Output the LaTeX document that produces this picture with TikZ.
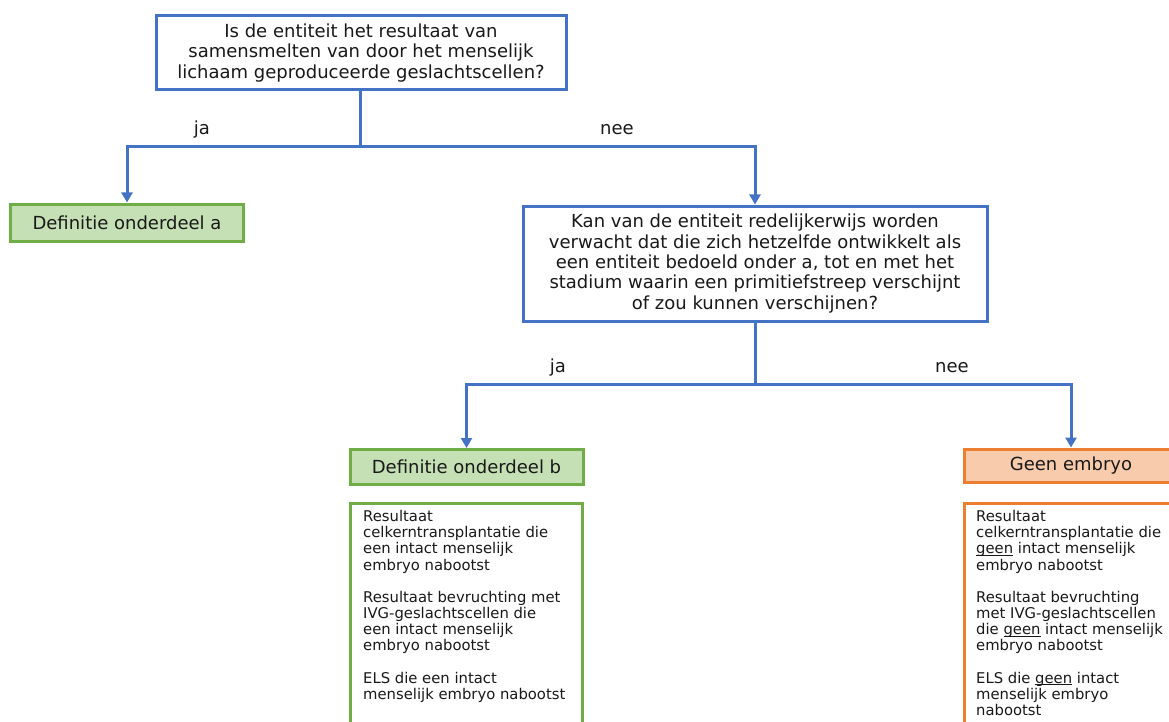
\documentclass[tikz,border=0pt]{standalone}
\usepackage{fontspec}
\setmainfont{DejaVu Sans}
\usetikzlibrary{arrows.meta}
\definecolor{cblue}{HTML}{4472C4}
\definecolor{cgreen}{HTML}{70AD47}
\definecolor{cgreenfill}{HTML}{C5E0B4}
\definecolor{corange}{HTML}{ED7D31}
\definecolor{corangefill}{HTML}{F8CBAD}
\newcommand{\ulword}[1]{\setbox0\hbox{#1}\rlap{\rule[-2.2pt]{\wd0}{0.9pt}}\box0\relax}
\tikzset{
  qbox/.style={draw=cblue, line width=3pt, fill=white, align=center, inner sep=0pt,
    font=\fontsize{18}{20.3}\selectfont, text=black!90},
  gbox/.style={draw=cgreen, line width=3pt, fill=cgreenfill, inner sep=0pt,
    font=\fontsize{18}{20}\selectfont, text=black!90},
  obox/.style={draw=corange, line width=3pt, fill=corangefill, inner sep=0pt,
    font=\fontsize{18}{20}\selectfont, text=black!90},
  listtext/.style={anchor=north west, align=left, inner sep=0pt,
    font=\fontsize{14.8}{16.2}\selectfont, text=black!90},
  conn/.style={draw=cblue, line width=3pt},
  arr/.style={conn, -{Triangle[width=11pt,length=10pt]}},
  lbl/.style={font=\fontsize{18}{20}\selectfont, text=black!90, inner sep=0pt}
}
\begin{document}
\begin{tikzpicture}[x=1pt,y=-1pt]
\useasboundingbox (0,0) rectangle (1169,722);
\clip (0,0) rectangle (1169,722);
% question boxes
\node[qbox, minimum width=410pt, minimum height=74pt] (q1) at (361,53)
  {Is de entiteit het resultaat van\\samensmelten van door het menselijk\\lichaam geproduceerde geslachtscellen?};
\node[qbox, minimum width=464pt, minimum height=115pt] (q2) at (755,263.5)
  {Kan van de entiteit redelijkerwijs worden\\verwacht dat die zich hetzelfde ontwikkelt als\\een entiteit bedoeld onder a, tot en met het\\stadium waarin een primitiefstreep verschijnt\\of zou kunnen verschijnen?};
% result boxes
\node[gbox, minimum width=233pt, minimum height=37pt] (a) at (127,222.5) {Definitie onderdeel a};
\node[gbox, minimum width=233pt, minimum height=35pt] (b) at (466.5,467) {Definitie onderdeel b};
\node[obox, minimum width=214pt, minimum height=33pt] (g) at (1071,465.5) {Geen embryo};
% list boxes
\draw[draw=cgreen, line width=3pt, fill=white] (350.5,503.5) rectangle (582.5,760);
\draw[draw=corange, line width=3pt, fill=white] (964.5,503.5) rectangle (1200,760);
\node[listtext] (lb) at (363,510)
  {Resultaat\\celkerntransplantatie die\\een intact menselijk\\embryo nabootst\\[16pt]Resultaat bevruchting met\\IVG-geslachtscellen die\\een intact menselijk\\embryo nabootst\\[16pt]ELS die een intact\\menselijk embryo nabootst};
\node[listtext] (lg) at (976,510)
  {Resultaat\\celkerntransplantatie die\\\ulword{geen} intact menselijk\\embryo nabootst\\[16pt]Resultaat bevruchting\\met IVG-geslachtscellen\\die \ulword{geen} intact menselijk\\embryo nabootst\\[16pt]ELS die \ulword{geen} intact\\menselijk embryo\\nabootst};
% connectors
\coordinate (j1) at (360,147);
\coordinate (j2) at (755,384);
\draw[conn] (q1.south -| j1) -- (j1);
\draw[arr] (j1) -| (a.north);
\draw[arr] (j1) -| (q2.north);
\draw[conn] (q2.south) -- (j2);
\draw[arr] (j2) -| (b.north);
\draw[arr] (j2) -| (g.north);
% labels
\node[lbl] (l1) at (202,130) {ja};
\node[lbl] (l2) at (617,130) {nee};
\node[lbl] (l3) at (558,368) {ja};
\node[lbl] (l4) at (952,368) {nee};
\end{tikzpicture}
\end{document}
